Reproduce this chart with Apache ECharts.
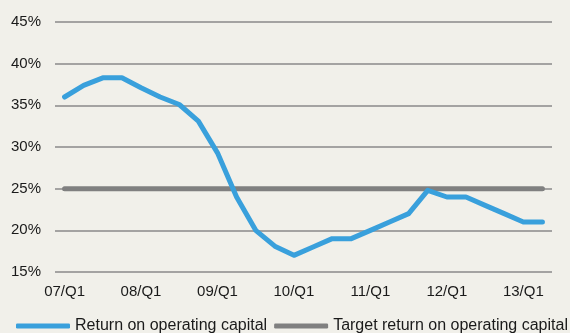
<!DOCTYPE html>
<html>
<head>
<meta charset="utf-8">
<script src="https://cdn.jsdelivr.net/npm/echarts@6/dist/echarts.min.js"></script>
<style>
  html, body { margin: 0; padding: 0; background: #f1f0ea; }
  #chart { width: 570px; height: 333px; }
</style>
</head>
<body>
<div id="chart"></div>
<script>
const quarters = [
  "07/Q1", "07/Q2", "07/Q3", "07/Q4",
  "08/Q1", "08/Q2", "08/Q3", "08/Q4",
  "09/Q1", "09/Q2", "09/Q3", "09/Q4",
  "10/Q1", "10/Q2", "10/Q3", "10/Q4",
  "11/Q1", "11/Q2", "11/Q3", "11/Q4",
  "12/Q1", "12/Q2", "12/Q3", "12/Q4",
  "13/Q1", "13/Q2"
]
const returnOnCapital = [
  36, 37.4, 38.3, 38.3,
  37.1, 36, 35.1, 33.1,
  29.3, 24, 20, 18.1,
  17, 18, 19, 19,
  20, 21, 22, 24.8,
  24, 24, 23, 22,
  21, 21
]
const targetReturn = quarters.map(() => 25)

const font = "Liberation Sans, Arial, sans-serif"
const chart = echarts.init(document.getElementById("chart"))

chart.setOption({
  backgroundColor: "#f1f0ea",
  animation: false,
  grid: { left: 55, right: 18, top: 22, bottom: 61 },
  legend: {
    left: 16,
    top: 318,
    width: 600,
    padding: 0,
    itemWidth: 54,
    itemHeight: 5,
    itemGap: 7,
    icon: "roundRect",
    textStyle: { fontFamily: font, fontSize: 16, color: "#1a1a1a" },
    data: ["Return on operating capital", "Target return on operating capital"]
  },
  xAxis: {
    type: "category",
    data: quarters,
    boundaryGap: true,
    axisLine: { show: false },
    axisTick: { show: false },
    axisLabel: { interval: 3, margin: 12, fontFamily: font, fontSize: 15, color: "#1a1a1a" }
  },
  yAxis: {
    type: "value",
    min: 15,
    max: 45,
    interval: 5,
    axisLine: { show: false },
    axisTick: { show: false },
    axisLabel: { formatter: "{value}%", margin: 14, fontFamily: font, fontSize: 15, color: "#1a1a1a" },
    splitLine: { lineStyle: { color: "#8a8a8a", width: 1.5 } }
  },
  series: [
    {
      name: "Target return on operating capital",
      type: "line",
      data: targetReturn,
      symbol: "none",
      color: "#808080",
      lineStyle: { width: 5, cap: "round" },
      z: 2
    },
    {
      name: "Return on operating capital",
      type: "line",
      data: returnOnCapital,
      symbol: "none",
      color: "#39a0dc",
      lineStyle: { width: 5, cap: "round", join: "round" },
      z: 3
    }
  ]
})
</script>
</body>
</html>
